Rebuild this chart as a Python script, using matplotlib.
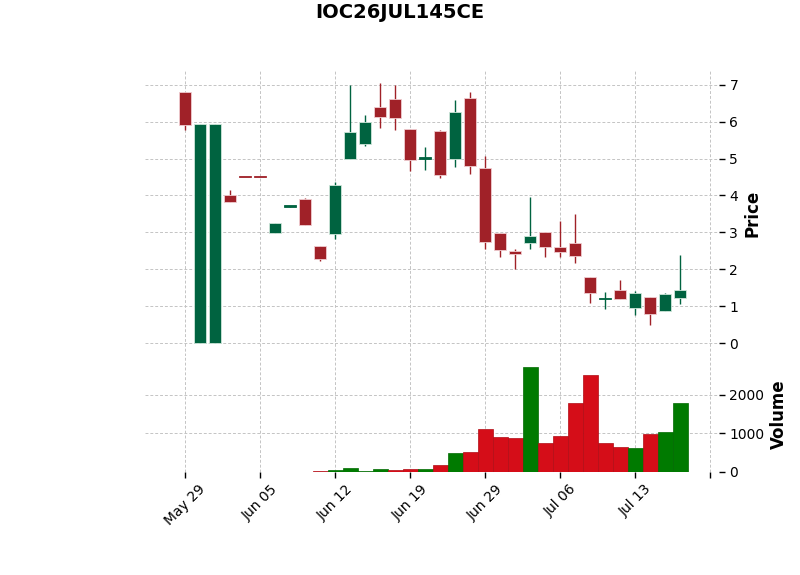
"""Velas diarias + volumen para IOC26JUL145CE (estilo charles, sin huecos de fin de semana)."""
import matplotlib
matplotlib.use("Agg")
import matplotlib.pyplot as plt
import numpy as np
import pandas as pd

TITLE = "IOC26JUL145CE"

dates = [
    "2026-05-29", "2026-06-01", "2026-06-02", "2026-06-03", "2026-06-04", "2026-06-05",
    "2026-06-08", "2026-06-09", "2026-06-10", "2026-06-11", "2026-06-12",
    "2026-06-15", "2026-06-16", "2026-06-17", "2026-06-18", "2026-06-19",
    "2026-06-22", "2026-06-23", "2026-06-24", "2026-06-25",
    "2026-06-29", "2026-06-30", "2026-07-01", "2026-07-02", "2026-07-03",
    "2026-07-06", "2026-07-07", "2026-07-08", "2026-07-09", "2026-07-10",
    "2026-07-13", "2026-07-14", "2026-07-15", "2026-07-16",
]
opens = [6.80, 0.00, 0.00, 4.01, 4.50, 4.50, 2.99, 3.70, 3.91, 2.64,
         2.95, 4.98, 5.40, 6.40, 6.61, 5.80, 5.00, 5.75, 4.98, 6.64,
         4.75, 2.99, 2.50, 2.72, 3.02, 2.61, 2.72, 1.80, 1.20, 1.45,
         0.96, 1.26, 0.86, 1.23]
highs = [6.80, 5.93, 5.93, 4.14, 4.50, 4.50, 3.25, 3.72, 3.93, 2.64,
         4.37, 7.00, 6.19, 7.05, 7.00, 5.80, 5.30, 5.78, 6.58, 6.79,
         5.08, 2.99, 2.55, 3.97, 3.02, 3.32, 3.49, 1.80, 1.38, 1.70,
         1.41, 1.26, 1.35, 2.38]
lows = [5.78, 0.00, 0.00, 3.82, 4.49, 4.49, 2.99, 3.70, 3.21, 2.23,
        2.81, 4.98, 5.35, 5.84, 5.78, 4.66, 4.70, 4.46, 4.77, 4.59,
        2.54, 2.34, 2.00, 2.54, 2.34, 2.34, 2.16, 1.08, 0.92, 1.20,
        0.76, 0.49, 0.86, 1.05]
closes = [5.91, 5.93, 5.93, 3.82, 4.49, 4.49, 3.25, 3.71, 3.21, 2.28,
          4.29, 5.72, 5.99, 6.13, 6.10, 4.96, 5.03, 4.55, 6.26, 4.79,
          2.74, 2.52, 2.42, 2.91, 2.60, 2.47, 2.36, 1.37, 1.22, 1.20,
          1.37, 0.79, 1.32, 1.45]
volumes = [0, 0, 0, 0, 0, 0, 0, 0, 0, 10,
           40, 95, 15, 70, 45, 70, 70, 180, 490, 515,
           1115, 905, 880, 2715, 750, 935, 1775, 2525, 750, 645,
           620, 985, 1035, 1775]

UP, DOWN = "#006340", "#A02128"
UP_EDGE, DOWN_EDGE = "#cfe6da", "#f0cdd0"
VUP, VDOWN = "#007a00", "#d50d18"
GRID = dict(color="#c4c4c4", linestyle=(0, (3, 2)), linewidth=0.7)

o = np.array(opens)
c = np.array(closes)
h = np.array(highs)
l = np.array(lows)
v = np.array(volumes, dtype=float)
x = np.arange(len(o))

fig = plt.figure(figsize=(8, 5.75), dpi=100)
ax = fig.add_axes([0.18125, 0.3809, 0.7175, 0.4974])
axv = fig.add_axes([0.18125, 0.1797, 0.7175, 0.1995], sharex=ax)

# velas (cuerpos casi planos sin halo claro, si no se pierden)
up = c >= o
colors = np.where(up, UP, DOWN)
flat = np.abs(c - o) < 0.05
edges = np.where(flat, colors, np.where(up, UP_EDGE, DOWN_EDGE))
ax.vlines(x, l, h, colors=colors, linewidth=1.0, zorder=2)
body = np.maximum(np.abs(c - o), 0.03)
ax.bar(x, body, bottom=np.minimum(o, c), width=0.76, color=colors,
       edgecolor=edges, linewidth=0.6, zorder=3)

# volumen: color según cierre previo
prev = np.r_[c[0], c[:-1]]
vcol = np.where(c >= prev, VUP, VDOWN)
vedge = np.where(c >= prev, "#006a00", "#b00c15")
mask = v > 0
axv.bar(x[mask], v[mask], width=1.0, color=vcol[mask], edgecolor=vedge[mask],
        linewidth=0.5, zorder=3)

ax.set_xlim(-2.67, 35.6)
ax.set_ylim(-0.35, 7.40)
axv.set_ylim(0, 1.1 * v.max())

ticks = np.arange(0, 36, 5)
labels = [pd.Timestamp(dates[t]).strftime("%b %d") if t < len(dates) else "" for t in ticks]
axv.set_xticks(ticks)
axv.set_xticklabels(labels, rotation=45, ha="center", fontsize=10)
ax.set_yticks(range(0, 8))
axv.set_yticks([0, 1000, 2000])

for a in (ax, axv):
    for s in a.spines.values():
        s.set_visible(False)
    a.grid(True, **GRID)
    a.set_axisbelow(True)
    a.yaxis.tick_right()
    a.yaxis.set_label_position("right")
    a.tick_params(axis="y", labelsize=10, length=4, width=1)
ax.tick_params(axis="x", bottom=False, labelbottom=False)
axv.tick_params(axis="x", length=4, width=1)

ax.set_ylabel("Price", fontsize=12, fontweight="bold")
axv.set_ylabel("Volume", fontsize=12, fontweight="bold")

fig.text(0.5, 1 - 12 / 575, TITLE, ha="center", va="center", fontsize=14, fontweight="bold")

fig.savefig("out.png", dpi=100)
